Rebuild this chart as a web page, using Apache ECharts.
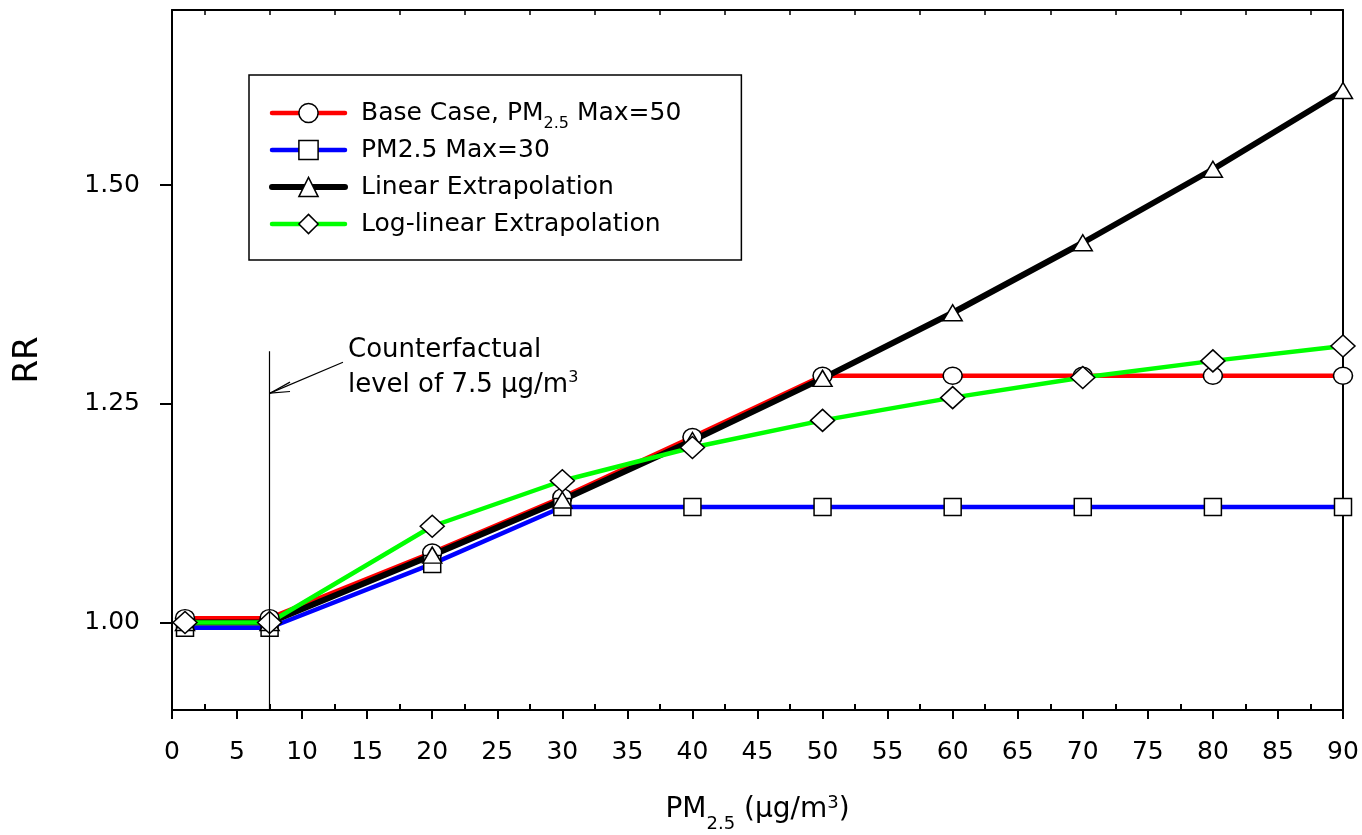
<!DOCTYPE html>
<html lang="en">
<head>
    <meta charset="UTF-8">
    <title>RR vs PM2.5</title>
    <script type="text/javascript" src="https://cdn.jsdelivr.net/npm/echarts@6.0.0/dist/echarts.min.js"></script>
    <style>
        html, body { margin: 0; padding: 0; background: #fff; }
    </style>
</head>
<body>
<div id="main" style="width:1362px;height:835px;"></div>
<script>
    // concentrations where the curves were evaluated
    const xValues = [1, 7.5, 20, 30, 40, 50, 60, 70, 80, 90];
    const baseCase = [1.005, 1.005, 1.080, 1.143, 1.212, 1.282, 1.282, 1.282, 1.282, 1.282];
    const max30 = [0.994, 0.994, 1.067, 1.132, 1.132, 1.132, 1.132, 1.132, 1.132, 1.132];
    const linearExt = [1.000, 1.000, 1.077, 1.140, 1.208, 1.279, 1.354, 1.434, 1.518, 1.608];
    const logLinearExt = [1.000, 1.000, 1.110, 1.162, 1.200, 1.231, 1.257, 1.280, 1.299, 1.316];

    const seriesNames = ['Base Case, PM2.5 Max=50', 'PM2.5 Max=30', 'Linear Extrapolation', 'Log-linear Extrapolation'];
    const yTicks = [1.00, 1.25, 1.50];
    const minorTicks = [2.5, 7.5, 12.5, 17.5, 22.5, 27.5, 32.5, 37.5, 42.5, 47.5, 52.5, 57.5, 62.5, 67.5, 72.5, 77.5, 82.5, 87.5];

    // counterfactual annotation (data coords)
    const refLine = [[7.5, 1.31], [7.5, 0.9]];
    const arrowShaft = [[13.14, 1.2975], [7.53, 1.2621]];
    const arrowArms = [[[7.53, 1.2621], [9.07, 1.2747]], [[7.53, 1.2621], [9.07, 1.2640]]];

    const FONT = 'DejaVu Sans';

    function pairs(ys) {
        return xValues.map((x, i) => [x, ys[i]]);
    }

    let myChart = echarts.init(document.getElementById('main'), null, {renderer: 'canvas'});

    const markerStyle = {color: '#fff', borderColor: '#000', borderWidth: 1.5};

    let annotationLines = [
        [{coord: refLine[0]}, {coord: refLine[1]}],
        [{coord: arrowShaft[0]}, {coord: arrowShaft[1]}]
    ];
    arrowArms.forEach(a => annotationLines.push([{coord: a[0]}, {coord: a[1]}]));

    let option = {
        animation: false,
        textStyle: {fontFamily: FONT, color: '#000'},
        grid: {left: 172, right: 19, top: 10, bottom: 125, outerBoundsMode: 'none', containLabel: false},
        legend: {
            orient: 'vertical',
            left: 249,
            top: 75,
            padding: [19, 60, 17, 20],
            borderColor: '#000',
            borderWidth: 1.5,
            itemWidth: 73,
            itemHeight: 24,
            itemGap: -1,
            selectedMode: false,
            data: seriesNames,
            lineStyle: {width: 'inherit', cap: 'round'},
            itemStyle: {borderWidth: 'inherit'},
            formatter: function (name) {
                if (name === seriesNames[0]) {
                    return '{t|Base Case, PM}{s|2.5}{t| Max=50}';
                }
                return '{t|' + name + '}';
            },
            textStyle: {
                fontFamily: FONT,
                fontSize: 25,
                color: '#000',
                lineHeight: 38,
                padding: [0, 0, 0, 11],
                rich: {
                    t: {fontFamily: FONT, fontSize: 25, lineHeight: 38},
                    s: {fontFamily: FONT, fontSize: 16, lineHeight: 38, verticalAlign: 'bottom'}
                }
            }
        },
        xAxis: [
            {
                type: 'value',
                position: 'bottom',
                min: 0,
                max: 90,
                interval: 5,
                name: '{t|PM}{s|2.5}{t| (μg/m}{p|3}{t|)}',
                nameLocation: 'middle',
                nameGap: 83,
                nameTextStyle: {
                    fontFamily: FONT,
                    fontSize: 28,
                    color: '#000',
                    lineHeight: 34,
                    rich: {
                        t: {fontFamily: FONT, fontSize: 28, lineHeight: 34},
                        s: {fontFamily: FONT, fontSize: 18, lineHeight: 34, padding: [28, 0, 0, 0]},
                        p: {fontFamily: FONT, fontSize: 18, lineHeight: 34, padding: [0, 0, 14, 0]}
                    }
                },
                axisLine: {show: true, onZero: false, lineStyle: {color: '#000', width: 2}},
                axisTick: {show: true, inside: false, length: 9, lineStyle: {color: '#000', width: 2}},
                axisLabel: {fontFamily: FONT, fontSize: 25, color: '#000', margin: 30},
                splitLine: {show: false}
            },
            {
                type: 'value',
                position: 'bottom',
                min: 0,
                max: 90,
                axisLine: {show: false},
                axisTick: {show: true, inside: true, length: 6, customValues: minorTicks, lineStyle: {color: '#000', width: 2}},
                axisLabel: {show: false},
                splitLine: {show: false}
            },
            {
                type: 'value',
                position: 'top',
                min: 0,
                max: 90,
                axisLine: {show: true, onZero: false, lineStyle: {color: '#000', width: 2}},
                axisTick: {show: true, inside: true, length: 5, customValues: minorTicks, lineStyle: {color: '#000', width: 1.5}},
                axisLabel: {show: false},
                splitLine: {show: false}
            }
        ],
        yAxis: [
            {
                type: 'value',
                position: 'left',
                min: 0.9,
                max: 1.7,
                name: 'RR',
                nameLocation: 'middle',
                nameGap: 126,
                nameTextStyle: {fontFamily: FONT, fontSize: 34, color: '#000', lineHeight: 36},
                axisLine: {show: true, onZero: false, lineStyle: {color: '#000', width: 2}},
                axisTick: {show: true, inside: false, length: 12, customValues: yTicks, lineStyle: {color: '#000', width: 2}},
                axisLabel: {
                    fontFamily: FONT, fontSize: 25, color: '#000', margin: 32,
                    customValues: yTicks,
                    formatter: v => v.toFixed(2)
                },
                splitLine: {show: false}
            },
            {
                type: 'value',
                position: 'right',
                min: 0.9,
                max: 1.7,
                axisLine: {show: true, onZero: false, lineStyle: {color: '#000', width: 2}},
                axisTick: {show: false},
                axisLabel: {show: false},
                splitLine: {show: false}
            }
        ],
        graphic: [
            {
                type: 'text',
                left: 348,
                top: 337,
                style: {
                    text: '{t|Counterfactual}\n{t|level of 7.5 μg/m}{p|3}',
                    fill: '#000',
                    font: '26px "DejaVu Sans"',
                    rich: {
                        t: {fontFamily: FONT, fontSize: 26, lineHeight: 35, fill: '#000'},
                        p: {fontFamily: FONT, fontSize: 16, lineHeight: 35, padding: [0, 0, 14, 0], fill: '#000'}
                    }
                }
            }
        ],
        series: [
            {
                name: seriesNames[0],
                type: 'line',
                data: pairs(baseCase),
                symbol: 'circle',
                symbolSize: [19, 17],
                clip: false,
                lineStyle: {color: '#ff0000', width: 4.5, cap: 'round'},
                itemStyle: markerStyle
            },
            {
                name: seriesNames[1],
                type: 'line',
                data: pairs(max30),
                symbol: 'rect',
                symbolSize: 17,
                clip: false,
                lineStyle: {color: '#0000ff', width: 4.5, cap: 'round'},
                itemStyle: markerStyle
            },
            {
                name: seriesNames[2],
                type: 'line',
                data: pairs(linearExt),
                symbol: 'triangle',
                symbolSize: [19, 16],
                clip: false,
                lineStyle: {color: '#000000', width: 6, cap: 'round'},
                itemStyle: markerStyle,
                markLine: {
                    silent: true,
                    animation: false,
                    symbol: 'none',
                    label: {show: false},
                    lineStyle: {color: '#000', width: 1.2, type: 'solid'},
                    emphasis: {disabled: true},
                    data: annotationLines
                }
            },
            {
                name: seriesNames[3],
                type: 'line',
                data: pairs(logLinearExt),
                symbol: 'diamond',
                symbolSize: [24, 22],
                clip: false,
                lineStyle: {color: '#00ff00', width: 4.5, cap: 'round'},
                itemStyle: markerStyle
            }
        ]
    };

    myChart.setOption(option);
</script>
</body>
</html>
